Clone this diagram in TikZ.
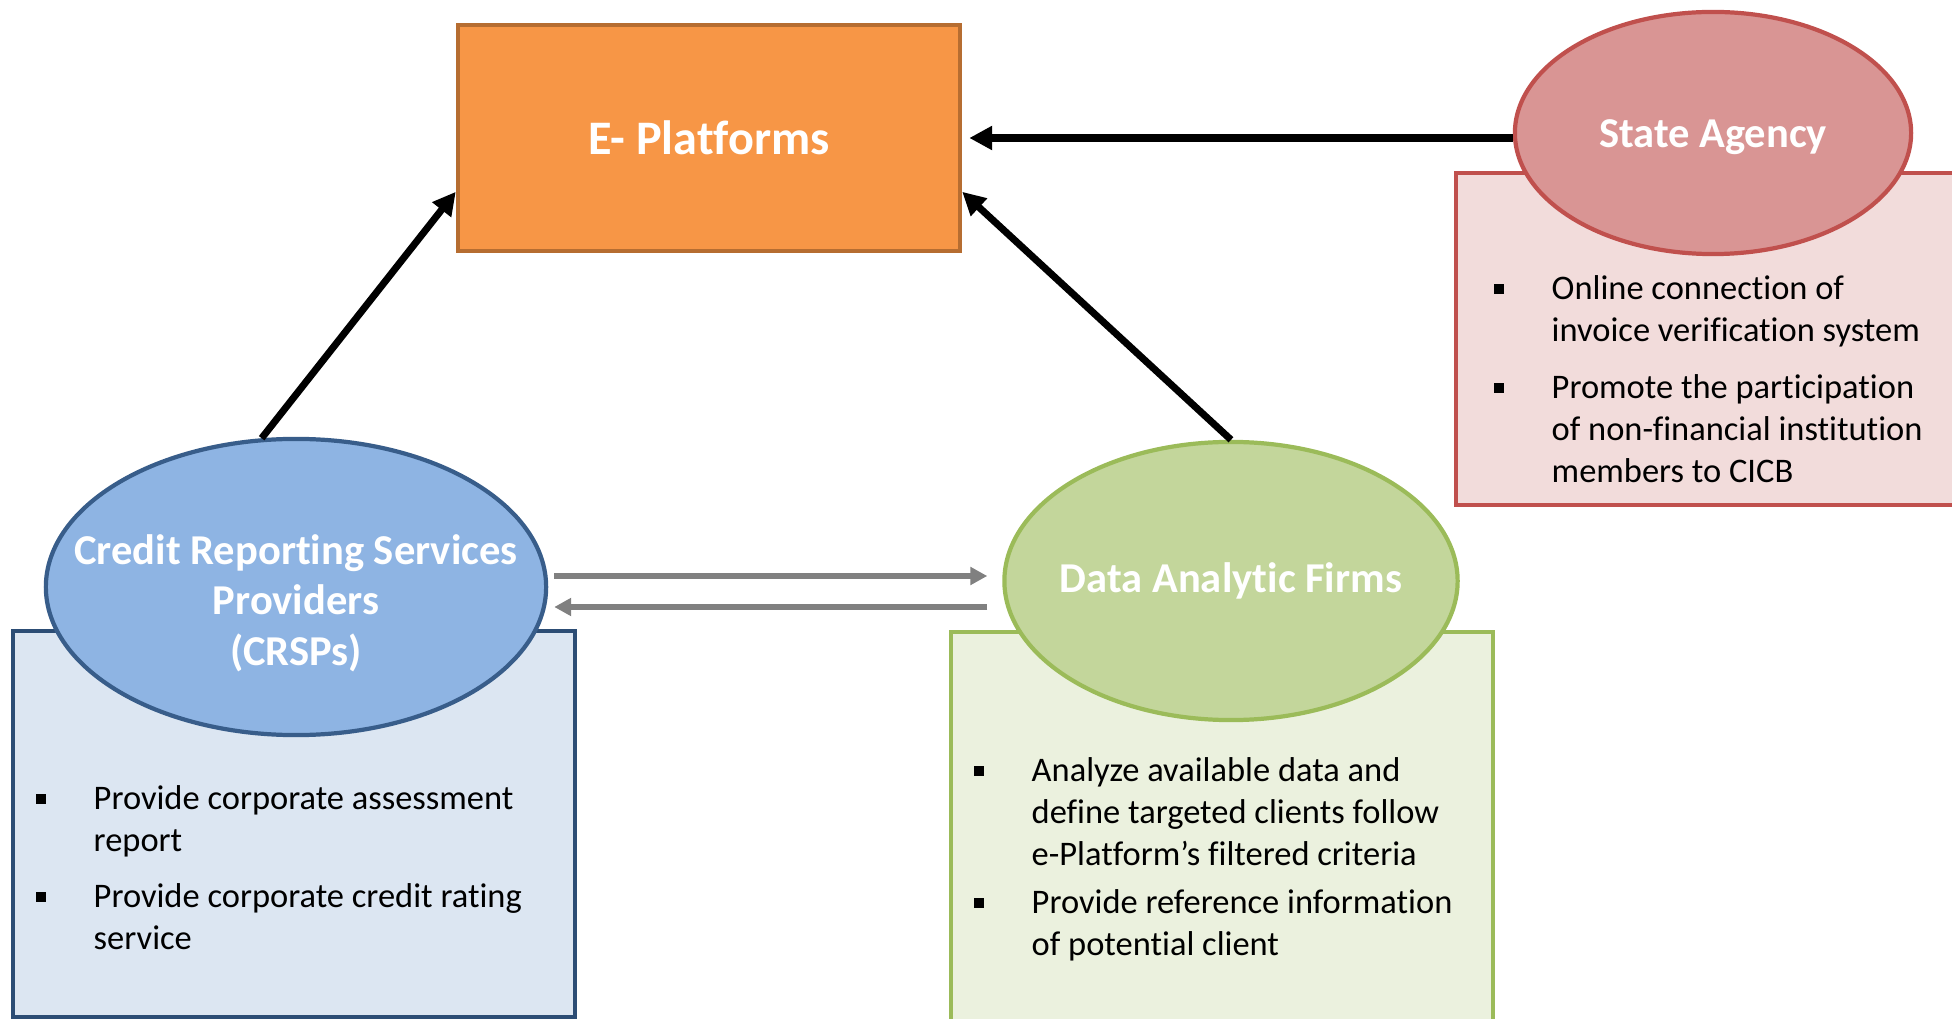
\documentclass[tikz,border=0pt]{standalone}
\usepackage{fontspec}
\setmainfont{Carlito}[Ligatures=NoCommon]
\usetikzlibrary{shapes.geometric,arrows.meta,calc}
\definecolor{platfill}{HTML}{F79646}
\definecolor{platline}{HTML}{B66D31}
\definecolor{agencyfill}{HTML}{D99594}
\definecolor{agencyline}{HTML}{C0504D}
\definecolor{agencybox}{HTML}{F2DCDB}
\definecolor{crspfill}{HTML}{8EB4E3}
\definecolor{crspline}{HTML}{385D8A}
\definecolor{crspbox}{HTML}{DCE6F2}
\definecolor{crspboxline}{HTML}{2C4D75}
\definecolor{firmfill}{HTML}{C3D69B}
\definecolor{firmline}{HTML}{9BBB59}
\definecolor{firmbox}{HTML}{EBF1DE}
\definecolor{swapgray}{HTML}{808080}
\newcommand{\bul}{\llap{\raisebox{0.35ex}{\rule{1mm}{1mm}}\hspace{4.75mm}}}

\begin{document}
\begin{tikzpicture}[x=0.01cm,y=-0.01cm,
	box/.style={draw, rectangle, line width=1.2pt, inner sep=0},
	blob/.style={draw, ellipse, line width=1.2pt, inner sep=0},
	title/.style={text=white, align=center, font=\bfseries\fontsize{12.1}{14.3}\selectfont},
	item/.style={anchor=north west, inner sep=0, align=left, font=\fontsize{9.8}{11.95}\selectfont},
	link/.style={-{Triangle[length=6.5pt,width=6.5pt]}, line width=2pt},
	swap/.style={-{Triangle[length=4.8pt,width=4.9pt]}, line width=1.6pt, draw=swapgray}]
	\useasboundingbox (0,0) rectangle (1952,1019);
	
	\node[box, fill=platfill, draw=platline, minimum width=5.02cm, minimum height=2.26cm, text=white, font=\bfseries\fontsize{13.7}{16}\selectfont] (eplat) at (709,138) {E- Platforms};
	
	\node[box, fill=agencybox, draw=agencyline, minimum width=5.13cm, minimum height=3.32cm] (sabox) at (1713,339) {};
	\node[blob, fill=agencyfill, draw=agencyline, minimum width=3.96cm, minimum height=2.42cm, label={[title, yshift=-0.04cm]center:State Agency}] (sa) at (1713,133) {};
	\node[item] (sa1) at (1551,275) {\bul Online connection of\\invoice verification system};
	\node[item] (sa2) at (1551,374) {\bul Promote the participation\\of non-financial institution\\members to CICB};
	
	\node[box, fill=crspbox, draw=crspboxline, minimum width=5.61cm, minimum height=3.85cm] (crspbox) at (294,824) {};
	\node[blob, fill=crspfill, draw=crspline, minimum width=5cm, minimum height=2.96cm, label={[title, yshift=-0.16cm]center:Credit Reporting Services\\Providers\\(CRSPs)}] (crsp) at (296,587) {};
	\node[item] (crsp1) at (93,785) {\bul Provide corporate assessment\\report};
	\node[item] (crsp2) at (93,883) {\bul Provide corporate credit rating\\service};
	
	\node[box, fill=firmbox, draw=firmline, minimum width=5.42cm, minimum height=4.08cm] (dafbox) at (1222,836) {};
	\node[blob, fill=firmfill, draw=firmline, minimum width=4.53cm, minimum height=2.78cm, label={[title]center:Data Analytic Firms}] (daf) at (1231,581) {};
	\node[item] (daf1) at (1031,757) {\bul Analyze available data and\\define targeted clients follow\\e-Platform’s filtered criteria};
	\node[item] (daf2) at (1031,889) {\bul Provide reference information\\of potential client};
	
	\draw[link] (crsp.103) -- (eplat.192);
	\draw[link] (daf.north) -- (eplat.348);
	\draw[link, shorten >=2pt] (eplat.east -| sa.west) -- (eplat.east);
	\draw[swap] ($(crsp.east)+(6,-11)$) -- ($(daf.west)+(-15,-5)$);
	\draw[swap] ($(daf.west)+(-15,26)$) -- ($(crsp.east)+(6,20)$);
\end{tikzpicture}
\end{document}
